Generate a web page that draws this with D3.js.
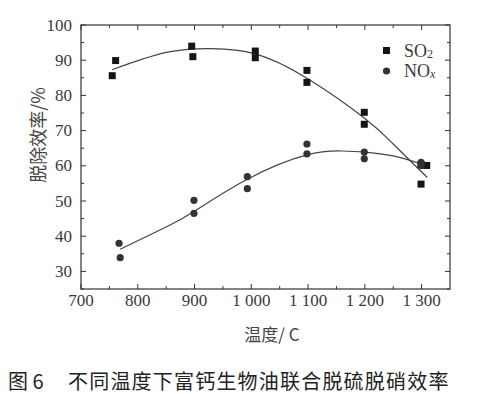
<!DOCTYPE html>
<html>
<head>
<meta charset="utf-8">
<script src="https://cdn.jsdelivr.net/npm/d3@7"></script>
<style>
	body { margin: 0; background: #fff; }
	svg { display: block; }
	.tick-label { font-family: "Liberation Serif", "DejaVu Serif", serif; font-size: 17px; fill: #3a3a3a; }
	.cjk { font-family: "Noto Sans CJK SC", sans-serif; }
</style>
</head>
<body>
<div id="chart"></div>
<script>
// measured points (temperature in °C, removal efficiency in %)
const so2Temps = [755, 761, 895, 897, 1007, 1007, 1098, 1098, 1199, 1199, 1299, 1299, 1309];
const so2Values = [85.6, 89.9, 94.0, 91.0, 92.6, 90.7, 87.1, 83.7, 75.2, 71.8, 54.8, 60.3, 60.1];

const noxTemps = [767, 769, 899, 899, 993, 993, 1098, 1098, 1199, 1199, 1299, 1299];
const noxValues = [38.0, 33.9, 50.2, 46.5, 56.9, 53.5, 66.2, 63.4, 63.9, 62.0, 61.0, 60.1];

// fitted curves
const so2FitTemps = [755, 850, 930, 1007, 1098, 1199, 1250, 1310];
const so2FitValues = [87.3, 92.2, 93.3, 91.8, 84.9, 73.6, 66.2, 56.7];

const noxFitTemps = [769, 850, 899, 993, 1098, 1160, 1199, 1250, 1299];
const noxFitValues = [36.3, 42.6, 47.0, 56.2, 63.1, 64.2, 63.9, 62.8, 60.5];

const xTicks = [700, 800, 900, 1000, 1100, 1200, 1300];
const yTicks = [30, 40, 50, 60, 70, 80, 90, 100];

const caption = '不同温度下富钙生物油联合脱硫脱硝效率';

const width = 479;
const height = 394;
const margin = {top: 25, right: 29, bottom: 105, left: 81};

const svg = d3.select('#chart').append('svg')
	.attr('width', width)
	.attr('height', height);

const x = d3.scaleLinear()
	.domain([700, 1350])
	.range([margin.left, width - margin.right]);

const y = d3.scaleLinear()
	.domain([25, 100])
	.range([height - margin.bottom, margin.top]);

const fmtX = d => d >= 1000 ? '1 ' + String(d).slice(1) : String(d);

const minorX = d3.range(750, 1350, 100);
const minorY = d3.range(25, 100, 10);

/**
 * inward-pointing ticks on all four sides
 */
function drawTicks() {
	const g = svg.append('g')
		.attr('stroke', '#333')
		.attr('stroke-width', 1);
	const x0 = x.range()[0], x1 = x.range()[1];
	const y0 = y.range()[0], y1 = y.range()[1];

	xTicks.concat(minorX).forEach(t => {
		const len = xTicks.includes(t) ? 5 : 3;
		g.append('line').attr('x1', x(t)).attr('x2', x(t)).attr('y1', y0).attr('y2', y0 - len);
		g.append('line').attr('x1', x(t)).attr('x2', x(t)).attr('y1', y1).attr('y2', y1 + len);
	});
	yTicks.concat(minorY).forEach(t => {
		const len = yTicks.includes(t) ? 5 : 3;
		g.append('line').attr('y1', y(t)).attr('y2', y(t)).attr('x1', x0).attr('x2', x0 + len);
		g.append('line').attr('y1', y(t)).attr('y2', y(t)).attr('x1', x1).attr('x2', x1 - len);
	});
}

drawTicks();

// frame
svg.append('rect')
	.attr('x', x.range()[0])
	.attr('y', y.range()[1])
	.attr('width', x.range()[1] - x.range()[0])
	.attr('height', y.range()[0] - y.range()[1])
	.attr('fill', 'none')
	.attr('stroke', '#333')
	.attr('stroke-width', 1.2);

// tick labels
svg.append('g')
	.selectAll('text')
	.data(xTicks)
	.join('text')
	.attr('class', 'tick-label')
	.attr('x', d => x(d))
	.attr('y', y.range()[0] + 17)
	.attr('text-anchor', 'middle')
	.text(fmtX);

svg.append('g')
	.selectAll('text')
	.data(yTicks)
	.join('text')
	.attr('class', 'tick-label')
	.attr('x', x.range()[0] - 9)
	.attr('y', d => y(d) + 5.5)
	.attr('text-anchor', 'end')
	.text(d => d);

// axis titles
svg.append('text')
	.attr('class', 'cjk')
	.attr('x', 272)
	.attr('y', 341)
	.attr('text-anchor', 'middle')
	.attr('font-size', 17)
	.attr('fill', '#444')
	.text('温度/ C');

svg.append('text')
	.attr('class', 'cjk')
	.attr('transform', 'translate(45,135) rotate(-90)')
	.attr('text-anchor', 'middle')
	.attr('font-size', 18)
	.attr('fill', '#444')
	.text('脱除效率/%');

// caption, one glyph per slot to get the wide spacing of the original
svg.append('text')
	.attr('class', 'cjk')
	.attr('x', 8)
	.attr('y', 389)
	.attr('font-size', 20)
	.attr('fill', '#222')
	.text('图 6');

svg.append('text')
	.attr('class', 'cjk')
	.attr('y', 389)
	.attr('font-size', 20)
	.attr('fill', '#222')
	.selectAll('tspan')
	.data(caption.split(''))
	.join('tspan')
	.attr('x', (d, i) => 68 + i * 21.2)
	.text(d => d);

// fitted curves
const line = d3.line()
	.x(d => x(d[0]))
	.y(d => y(d[1]))
	.curve(d3.curveNatural);

[[so2FitTemps, so2FitValues], [noxFitTemps, noxFitValues]].forEach(([ts, vs]) => {
	svg.append('path')
		.datum(ts.map((t, i) => [t, vs[i]]))
		.attr('d', line)
		.attr('fill', 'none')
		.attr('stroke', '#444')
		.attr('stroke-width', 1.2);
});

// markers
svg.append('g')
	.selectAll('rect')
	.data(so2Temps.map((t, i) => [t, so2Values[i]]))
	.join('rect')
	.attr('x', d => x(d[0]) - 3.5)
	.attr('y', d => y(d[1]) - 3.5)
	.attr('width', 7)
	.attr('height', 7)
	.attr('fill', '#151515');

svg.append('g')
	.selectAll('circle')
	.data(noxTemps.map((t, i) => [t, noxValues[i]]))
	.join('circle')
	.attr('cx', d => x(d[0]))
	.attr('cy', d => y(d[1]))
	.attr('r', 3.6)
	.attr('fill', '#333');

// legend
const legend = svg.append('g').attr('class', 'tick-label');

legend.append('rect')
	.attr('x', 383).attr('y', 47).attr('width', 7).attr('height', 7)
	.attr('fill', '#151515');
legend.append('circle')
	.attr('cx', 386.5).attr('cy', 71).attr('r', 3.6)
	.attr('fill', '#333');

const so2Label = legend.append('text').attr('x', 404).attr('y', 56.5).style('font-size', '18px');
so2Label.append('tspan').text('SO');
so2Label.append('tspan').style('font-size', '12px').attr('dy', 1).text('2');

const noxLabel = legend.append('text').attr('x', 404).attr('y', 76.5).style('font-size', '18px');
noxLabel.append('tspan').text('NO');
noxLabel.append('tspan').style('font-size', '12px').attr('dy', 1).attr('font-style', 'italic').text('x');
</script>
</body>
</html>
